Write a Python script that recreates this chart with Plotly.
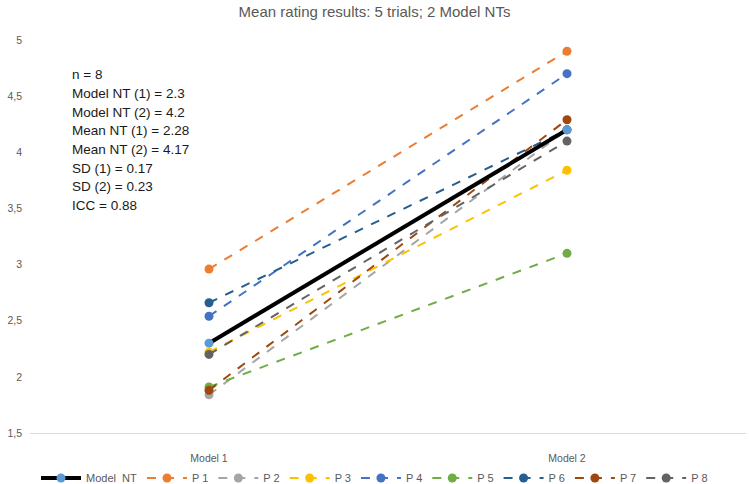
import plotly.graph_objects as go

categories = ["Model 1", "Model 2"]
series_names = ["P 1", "P 2", "P 3", "P 4", "P 5", "P 6", "P 7", "P 8"]
p1 = [2.96, 4.90]
p2 = [1.84, 4.20]
p3 = [2.22, 3.84]
p4 = [2.54, 4.70]
p5 = [1.91, 3.10]
p6 = [2.66, 4.20]
p7 = [1.88, 4.29]
p8 = [2.20, 4.10]
model_nt = [2.30, 4.20]
series_values = [p1, p2, p3, p4, p5, p6, p7, p8]
series_colors = ["#ED7D31", "#A5A5A5", "#FFC000", "#4472C4", "#70AD47",
                 "#255E91", "#9E480E", "#636363"]
ytick_vals = [1.5, 2, 2.5, 3, 3.5, 4, 4.5, 5]
ytick_text = ["1,5", "2", "2,5", "3", "3,5", "4", "4,5", "5"]
stats_lines = ["n = 8", "Model NT (1) = 2.3", "Model NT (2) = 4.2",
               "Mean NT (1) = 2.28", "Mean NT (2) = 4.17", "SD (1) = 0.17",
               "SD (2) = 0.23", "ICC = 0.88"]

FONT = "Liberation Sans"
fig = go.Figure()
for i, (name, vals, col) in enumerate(zip(series_names, series_values, series_colors)):
    fig.add_trace(go.Scatter(
        x=categories, y=vals, name=name, mode="lines+markers",
        line=dict(color=col, width=2, dash="dash"),
        marker=dict(color=col, size=9), legendrank=i + 2))
fig.add_trace(go.Scatter(
    x=categories, y=model_nt, name="Model  NT", mode="lines+markers",
    line=dict(color="black", width=4),
    marker=dict(color="#5B9BD5", size=9), legendrank=1))

W, H = 749, 484
ml, mr, mt, mb = 30, 3, 40, 51
ph = H - mt - mb
for k, t in enumerate(stats_lines):
    ypix = 75 + k * 18.6
    fig.add_annotation(text=t, xref="paper", yref="paper",
                       x=(70 - ml) / (W - ml - mr), y=1 - (ypix - mt) / ph,
                       xanchor="left", yanchor="middle", showarrow=False,
                       font=dict(family=FONT, size=13.5, color="#1a1a1a"))

fig.update_layout(
    width=W, height=H,
    margin=dict(l=ml, r=mr, t=mt, b=mb, autoexpand=False),
    paper_bgcolor="white", plot_bgcolor="white",
    font=dict(family=FONT, color="#595959"),
    title=dict(text="Mean rating results: 5 trials; 2 Model NTs", x=0.5,
               xanchor="center", y=1 - 12 / H, yanchor="middle",
               font=dict(family=FONT, size=15, color="#595959")),
    xaxis=dict(type="category", range=[-0.5, 1.5], showgrid=False,
               showline=True, linecolor="#D9D9D9", linewidth=1,
               zeroline=False, ticks="", ticklabelstandoff=15,
               automargin=False,
               tickfont=dict(size=10.5, color="#595959")),
    yaxis=dict(range=[1.5, 5], tickvals=ytick_vals, ticktext=ytick_text,
               showgrid=False, zeroline=False, showline=False,
               ticklabelstandoff=7, automargin=False,
               tickfont=dict(size=10.5, color="#595959")),
    legend=dict(orientation="h", x=0.5, xanchor="center", xref="container",
                y=1 - 478 / H, yanchor="middle", yref="container",
                font=dict(size=11, color="#595959"),
                itemwidth=40, tracegroupgap=0),
    showlegend=True,
)
fig.write_html("out.html", config={"displayModeBar": False},
               post_script="document.body.style.margin='0px';document.body.style.overflow='hidden';")
